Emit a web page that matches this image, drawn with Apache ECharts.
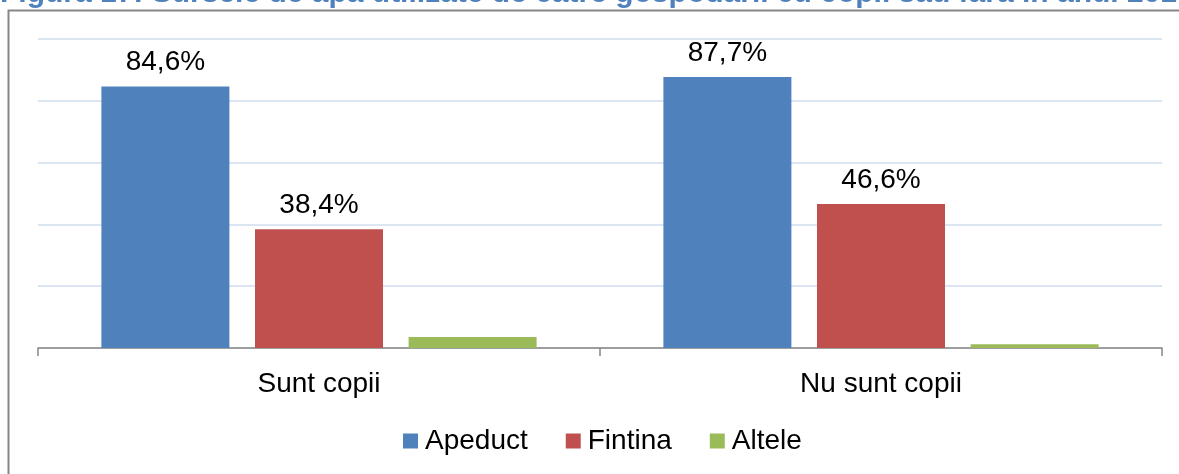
<!DOCTYPE html>
<html>
<head>
<meta charset="utf-8">
<script src="https://cdn.jsdelivr.net/npm/echarts@6/dist/echarts.min.js"></script>
<style>
    html, body { margin: 0; padding: 0; background: #fff; }
    #chart { width: 1179px; height: 474px; }
</style>
</head>
<body>
<div id="chart"></div>
<script>
    // 数据
    const categories = ['Sunt copii', 'Nu sunt copii'];
    const apeduct = [84.6, 87.7];
    const fintina = [38.4, 46.6];
    const altele = [3.6, 1.2];
    const titleText = 'Figura 17: Sursele de apa utilizate de catre gospodarii cu copii sau fara in anul 2016';

    const chart = echarts.init(document.getElementById('chart'));

    const labelStyle = {
        show: true,
        position: 'top',
        distance: 10,
        fontFamily: 'Liberation Sans, Arial',
        fontSize: 28,
        color: '#000',
        formatter: p => String(p.value).replace('.', ',') + '%'
    };

    function barSeries(name, data, color, withLabel) {
        return {
            name: name,
            type: 'bar',
            data: data,
            barWidth: 128,
            barGap: '20%',
            itemStyle: { color: color },
            label: withLabel ? labelStyle : { show: false },
            emphasis: { disabled: true }
        };
    }

    const option = {
        animation: false,
        textStyle: { fontFamily: 'Liberation Sans, Arial' },
        graphic: [
            {
                type: 'rect',
                shape: { x: 8.5, y: 10.5, width: 1200, height: 480 },
                style: { fill: 'none', stroke: '#868686', lineWidth: 2 },
                z: -1
            },
            {
                type: 'text',
                left: 0,
                top: -21,
                style: {
                    text: titleText,
                    fontFamily: 'Liberation Sans, Arial',
                    fontWeight: 'bold',
                    fontSize: 30,
                    fill: '#4f81bd'
                }
            }
        ],
        legend: {
            bottom: 19,
            left: 403,
            padding: 0,
            itemWidth: 15,
            itemHeight: 15,
            itemGap: 38,
            icon: 'rect',
            textStyle: { fontSize: 28, color: '#000', padding: [0, 0, 0, 2] },
            data: ['Apeduct', 'Fintina', 'Altele']
        },
        grid: { left: 38, right: 17, top: 39, bottom: 126 },
        xAxis: {
            type: 'category',
            data: categories,
            axisLine: { lineStyle: { color: '#868686', width: 1.5 } },
            axisTick: { show: true, length: 8, lineStyle: { color: '#868686', width: 1.5 } },
            axisLabel: { fontSize: 28, color: '#000', margin: 22 }
        },
        yAxis: {
            type: 'value',
            min: 0,
            max: 100,
            interval: 20,
            axisLabel: { show: false },
            axisLine: { show: false },
            axisTick: { show: false },
            splitLine: { lineStyle: { color: '#dce6f2', width: 2 } }
        },
        series: [
            barSeries('Apeduct', apeduct, '#4f81bd', true),
            barSeries('Fintina', fintina, '#c0504d', true),
            barSeries('Altele', altele, '#9bbb59', false)
        ]
    };

    chart.setOption(option);
    window.addEventListener('resize', () => chart.resize());
</script>
</body>
</html>
